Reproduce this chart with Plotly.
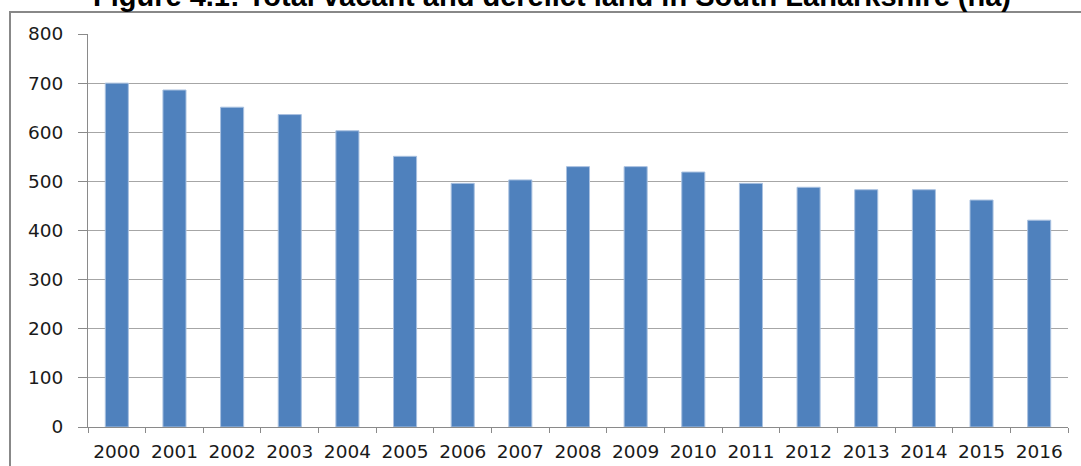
import plotly.graph_objects as go

years = ["2000", "2001", "2002", "2003", "2004", "2005", "2006", "2007", "2008",
         "2009", "2010", "2011", "2012", "2013", "2014", "2015", "2016"]
hectares = [700, 686, 651, 636, 603, 551, 496, 503, 530, 530, 519, 496, 488, 483, 483, 462, 421]
y_ticks = [0, 100, 200, 300, 400, 500, 600, 700, 800]
title_text = "Figure 4.1: Total vacant and derelict land in South Lanarkshire (ha)"

W, H = 1081, 466
L, R, T, B = 88, 13, 34, 39
pw, ph = W - L - R, H - T - B

def px_x(x):
    return (x - L) / pw

def px_y(y):
    return 1 + (T - y) / ph

fig = go.Figure()
fig.add_trace(go.Bar(
    x=years, y=hectares,
    marker=dict(color="#4f81bd", line=dict(color="#a9c1e0", width=1)),
))

fig.update_layout(
    width=W, height=H,
    margin=dict(l=L, r=R, t=T, b=B, pad=0, autoexpand=False),
    paper_bgcolor="white", plot_bgcolor="white",
    bargap=0.6,
    showlegend=False,
    font=dict(family="DejaVu Sans", color="#1a1a1a"),
)
fig.update_xaxes(
    type="category", automargin=False,
    showline=True, linecolor="#8a8a8a", linewidth=1,
    ticks="outside", ticklen=5, tickcolor="#8a8a8a", tickson="boundaries",
    tickfont=dict(size=18.5, family="DejaVu Sans", color="#1a1a1a"),
    ticklabelstandoff=8,
    showgrid=False,
)
fig.update_yaxes(
    range=[0, 800], tickvals=y_ticks, automargin=False,
    showline=True, linecolor="#8a8a8a", linewidth=1,
    ticks="outside", ticklen=9, tickcolor="#8a8a8a",
    showgrid=True, gridcolor="#a6a6a6", gridwidth=1,
    tickfont=dict(size=18.5, family="DejaVu Sans", color="#1a1a1a"),
    ticklabelstandoff=11,
    zeroline=False,
)

fig.add_shape(type="rect", xref="paper", yref="paper",
              x0=px_x(10), x1=px_x(W + 20), y0=px_y(H + 20), y1=px_y(12),
              line=dict(color="#888888", width=2), fillcolor="rgba(0,0,0,0)", layer="below")

fig.add_annotation(
    text="<b>" + title_text + "</b>",
    xref="paper", yref="paper",
    x=px_x(552), y=px_y(14), xanchor="center", yanchor="bottom",
    showarrow=False,
    font=dict(family="Liberation Sans", size=29, color="black"),
)

fig.write_html("out.html")
